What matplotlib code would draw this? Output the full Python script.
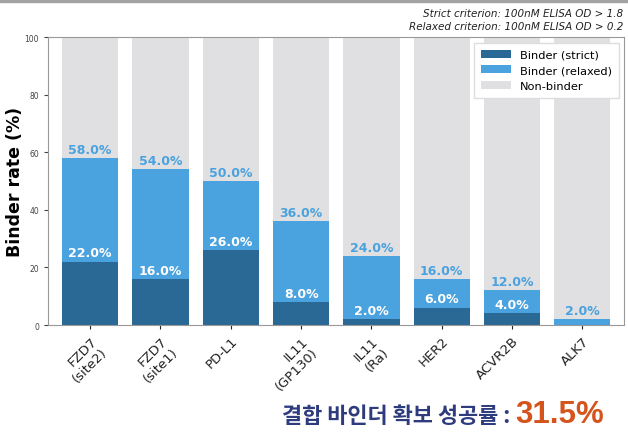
import matplotlib
matplotlib.use('Agg')
import matplotlib.pyplot as plt
from matplotlib.patches import Rectangle
import numpy as np

# Data
targets = ['FZD7\n(site2)', 'FZD7\n(site1)', 'PD-L1', 'IL11\n(GP130)', 'IL11\n(Ra)', 'HER2', 'ACVR2B', 'ALK7']
strict = [22.0, 16.0, 26.0, 8.0, 2.0, 6.0, 4.0, 0.0]
relaxed = [58.0, 54.0, 50.0, 36.0, 24.0, 16.0, 12.0, 2.0]
overall_rate = '31.5%'

dark_blue = '#2a6895'
light_blue = '#4aa2de'
gray = '#e0e0e2'

fig = plt.figure(figsize=(6.28, 4.39), dpi=100)
fig.patches.append(Rectangle((0, 1 - 3 / 439), 1, 3 / 439, transform=fig.transFigure,
                             color='#a3a3a3', zorder=0))
ax = fig.add_axes([0.0764, 0.2574, 0.918, 0.656])

x = np.arange(len(targets))
w = 0.8
non_binder = [100 - r for r in relaxed]
extra = [r - s for r, s in zip(relaxed, strict)]

ax.bar(x, strict, w, color=dark_blue, label='Binder (strict)')
ax.bar(x, extra, w, bottom=strict, color=light_blue, label='Binder (relaxed)')
ax.bar(x, non_binder, w, bottom=relaxed, color=gray, label='Non-binder')

for xi, s, r in zip(x, strict, relaxed):
    if s > 0:
        ax.text(xi, s + 0.8, f'{s:.1f}%', ha='center', va='bottom', color='white',
                fontsize=9, fontweight='bold')
    ax.text(xi, r + 0.8, f'{r:.1f}%', ha='center', va='bottom', color=light_blue,
            fontsize=9, fontweight='bold')

ax.set_xlim(-0.6, 7.6)
ax.set_ylim(0, 100)
ax.set_yticks([0, 20, 40, 60, 80, 100])
ax.tick_params(axis='y', labelsize=5.5, colors='#444444', length=3)
ax.tick_params(axis='x', labelsize=9.5, length=3, colors='#222222')
ax.set_xticks(x)
ax.set_xticklabels(targets, rotation=45, ha='right', rotation_mode='anchor')
ax.set_ylabel('Binder rate (%)', fontsize=12.5, fontweight='bold')
ax.yaxis.set_label_coords(-0.042, 0.5)
for sp in ax.spines.values():
    sp.set_color('#999999')

ax.legend(loc='upper right', fontsize=8.2, frameon=True, framealpha=1,
          edgecolor='#dddddd', fancybox=False, borderpad=0.6, handlelength=2.6)

fig.text(0.992, 0.968, 'Strict criterion: 100nM ELISA OD > 1.8', ha='right', va='center',
         fontsize=7.5, style='italic', color='#222222')
fig.text(0.992, 0.938, 'Relaxed criterion: 100nM ELISA OD > 0.2', ha='right', va='center',
         fontsize=7.5, style='italic', color='#222222')

t1 = fig.text(0.449, 0.037, '결합 바인더 확보 성공률 : ', ha='left', va='baseline',
              fontsize=15.8, fontweight='bold', color='#2e3c7e', family=['Noto Sans CJK KR'])
fig.canvas.draw()
bb = t1.get_window_extent()
fig.text(bb.x1 / fig.bbox.width, 0.037, overall_rate, ha='left', va='baseline',
         fontsize=22.5, fontweight='bold', color='#d4541c', family=['Liberation Sans'])

fig.savefig('out.png', dpi=100)
